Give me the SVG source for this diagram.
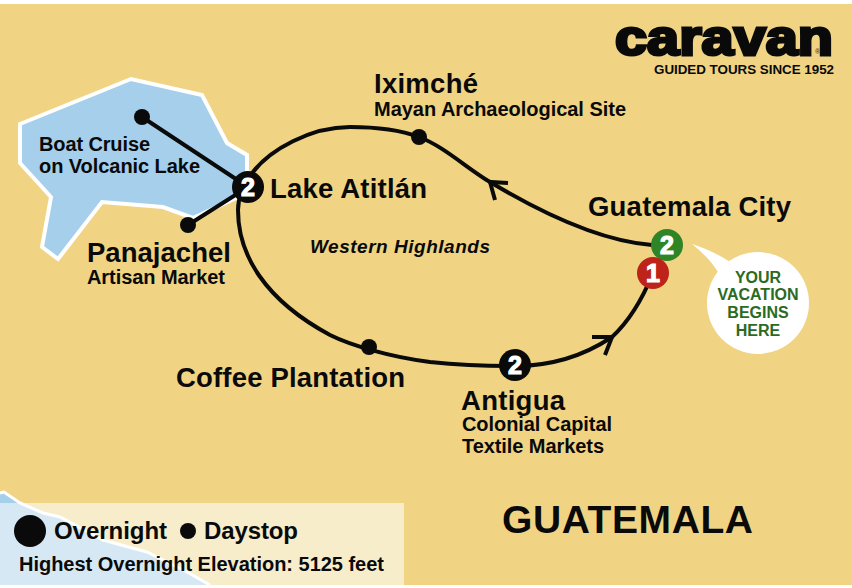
<svg xmlns="http://www.w3.org/2000/svg" width="852" height="588" viewBox="0 0 852 588">
<style>
text{font-family:"Liberation Sans",Arial,sans-serif;font-weight:700;fill:#0a0a0a}
.t1{font-size:27.5px}
.t2{font-size:20px}
.num{font-size:25px;fill:#fff;text-anchor:middle;stroke:#fff;stroke-width:1.2}
.v{font-size:16px;fill:#2a6a22;text-anchor:middle}
.route{fill:none;stroke:#0a0a0a;stroke-width:4}
.dot{fill:#0a0a0a}
</style>
<rect width="852" height="588" fill="#fff"/>
<rect x="0" y="4" width="852" height="581" fill="#f0d484"/>
<g id="lake">
<path d="M20 124L131 79L202 95L227 143L247 155V193L193 218L163 207L102 202L58 259L42 247L51 197L20 163Z" fill="#a5cfeb" stroke="#fff" stroke-width="4"/>
</g>
<g id="legend">
<path d="M0 493L4 492L20 503H0Z" fill="#a5cfeb"/>
<rect x="0" y="503" width="404" height="82" fill="#f8edca"/>
<path d="M0 503H20L43 513L60 517L103 540L147 552L187 572L210 585H0Z" fill="#d7e8f5"/>
<path d="M0 493L4 492L20 503L43 513L60 517L103 540L147 552L187 572L210 585" fill="none" stroke="#fff" stroke-width="3"/>
<circle cx="30" cy="531" r="16" class="dot"/>
<text x="54" y="539" style="font-size:24px" textLength="113">Overnight</text>
<circle cx="188" cy="531" r="8" class="dot"/>
<text x="204" y="539" style="font-size:24px" textLength="94">Daystop</text>
<text x="19" y="571" style="font-size:20px" textLength="365">Highest Overnight Elevation: 5125 feet</text>
</g>
<g id="connectors">
<path class="route" d="M652 245C600 241 540 212 490 182C465 167 445 147 419 137C395 128 370 127 350 127C310 127 270 150 253 172C243 185 238 197 238 210C238 255 265 300 330 335C350 345 390 357 430 362C460 365 490 366 515 366C555 366 585 355 612 337C625 325 640 305 653 273"/>
<path class="route" d="M248 187L142 117M248 187L188 225"/>
<path class="route" d="M508 183L490 182L495 200M592 337L612 337L605 355"/>
</g>
<g id="logo">
<text x="615" y="55" style="font-size:50px;stroke:#0a0a0a;stroke-width:3" textLength="218" lengthAdjust="spacingAndGlyphs">caravan</text>
<text x="815" y="54" style="font-size:7px;fill:#5a4a20">®</text>
<text x="654" y="74" style="font-size:13.4px" textLength="180">GUIDED TOURS SINCE 1952</text>
</g>
<g id="iximche"><circle cx="419" cy="137" r="8" class="dot"/>
<text x="374" y="93" class="t1" textLength="104">Iximché</text>
<text x="374" y="116" class="t2" textLength="252">Mayan Archaeological Site</text></g>
<g id="guatemala-city">
<text x="588" y="216" class="t1" textLength="203">Guatemala City</text>
<circle cx="667" cy="245" r="16" fill="#2f8426"/><text x="667" y="253.500" class="num">2</text>
<circle cx="653" cy="273" r="16" fill="#bd2318"/><text x="653" y="281.500" class="num">1</text>
</g>
<g id="callout">
<path d="M692 244C705 248 718 254 730 262L718 272C712 262 702 252 692 244Z" fill="#fff"/>
<circle cx="758" cy="303" r="51" fill="#fff"/>
<text x="758" y="283" class="v">YOUR</text><text x="758" y="300" class="v">VACATION</text><text x="758" y="318" class="v">BEGINS</text><text x="758" y="336" class="v">HERE</text>
</g>
<g id="lake-atitlan">
<circle cx="248" cy="187" r="16" class="dot"/><text x="248" y="195.500" class="num">2</text>
<text x="270" y="198" class="t1" textLength="157">Lake Atitlán</text>
</g>
<g id="boat-cruise"><circle cx="142" cy="117" r="8" class="dot"/>
<text x="39" y="151" class="t2" textLength="111">Boat Cruise</text><text x="39" y="173" class="t2" textLength="161">on Volcanic Lake</text></g>
<g id="panajachel"><circle cx="188" cy="225" r="8" class="dot"/>
<text x="87" y="262" class="t1" textLength="144">Panajachel</text><text x="87" y="284" class="t2" textLength="138">Artisan Market</text></g>
<g id="coffee"><circle cx="369" cy="347" r="8" class="dot"/>
<text x="176" y="387" class="t1" textLength="229">Coffee Plantation</text></g>
<g id="antigua"><circle cx="515" cy="365" r="16" class="dot"/><text x="515" y="373.500" class="num">2</text>
<text x="461" y="410" class="t1" textLength="104">Antigua</text>
<text x="462" y="431" class="t2" textLength="150">Colonial Capital</text><text x="462" y="453" class="t2" textLength="142">Textile Markets</text></g>
<text x="310" y="253" style="font-size:19px;font-style:italic" textLength="180">Western Highlands</text>
<text x="502" y="533" style="font-size:39px" textLength="251">GUATEMALA</text>
</svg>
